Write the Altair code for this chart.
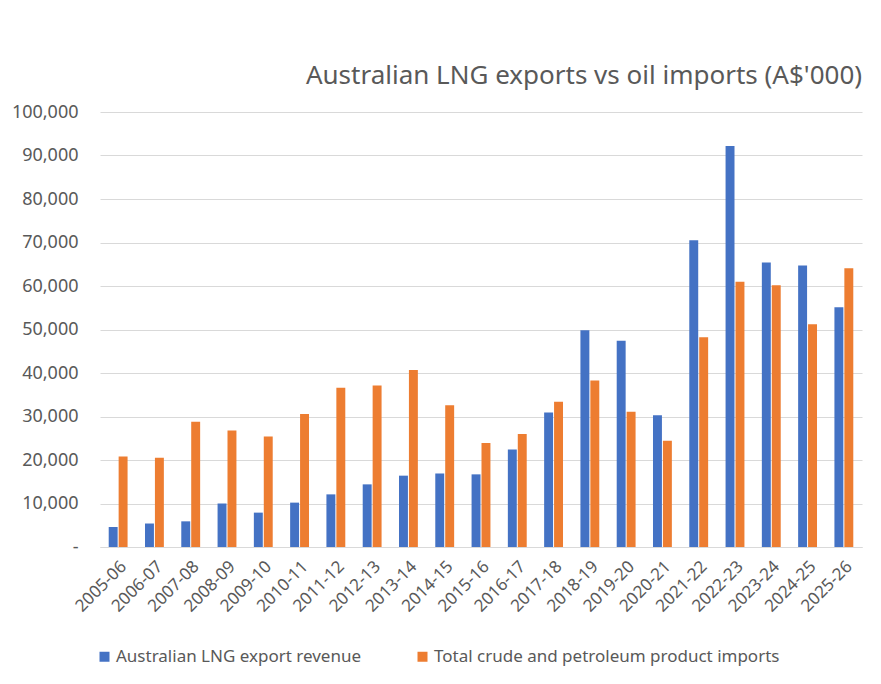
import altair as alt
import pandas as pd

years = ["2005-06", "2006-07", "2007-08", "2008-09", "2009-10", "2010-11", "2011-12",
         "2012-13", "2013-14", "2014-15", "2015-16", "2016-17", "2017-18", "2018-19",
         "2019-20", "2020-21", "2021-22", "2022-23", "2023-24", "2024-25", "2025-26"]
lng = [4600, 5400, 5900, 10000, 7900, 10200, 12100, 14400, 16400, 16900, 16700, 22400,
       30900, 49800, 47400, 30300, 70500, 92200, 65400, 64700, 55100]
oil = [20800, 20500, 28800, 26800, 25400, 30600, 36600, 37100, 40700, 32600, 23900, 26000,
       33400, 38300, 31100, 24400, 48200, 61000, 60200, 51200, 64100]
series = ["Australian LNG export revenue", "Total crude and petroleum product imports"]
colors = ["#4472C4", "#ED7D31"]
title_text = "Australian LNG exports vs oil imports (A$'000)"

rows = []
for i, y in enumerate(years):
    rows.append({"year": y, "series": series[0], "value": lng[i]})
    rows.append({"year": y, "series": series[1], "value": oil[i]})
df = pd.DataFrame(rows)

FONT = "Noto Sans"
GREY = "#595959"

bars = alt.Chart(df).mark_bar().encode(
    x=alt.X("year:N", sort=years, title=None,
            scale=alt.Scale(paddingInner=0.48, paddingOuter=0.24),
            axis=alt.Axis(labelAngle=-45, labelFontSize=17, labelColor=GREY, labelFont=FONT,
                          ticks=False, domainColor="#d9d9d9", labelPadding=11)),
    xOffset=alt.XOffset("series:N", sort=series, scale=alt.Scale(paddingInner=0.1)),
    y=alt.Y("value:Q", title=None,
            scale=alt.Scale(domain=[0, 100000]),
            axis=alt.Axis(values=list(range(0, 100001, 10000)),
                          labelExpr="datum.value == 0 ? '-\u00a0\u00a0\u00a0' : format(datum.value, ',')",
                          labelFontSize=18, labelColor=GREY, labelFont=FONT,
                          ticks=False, domain=False, gridColor="#d9d9d9", gridWidth=1.2,
                          labelPadding=22)),
    color=alt.Color("series:N", sort=series,
                    scale=alt.Scale(domain=series, range=colors),
                    legend=alt.Legend(title=None, orient="none", direction="horizontal",
                                      legendX=-4, legendY=536, symbolType="square",
                                      symbolSize=100, symbolStrokeWidth=0,
                                      labelFontSize=17, labelColor=GREY, labelFont=FONT,
                                      labelLimit=0, columnPadding=52, labelOffset=3)),
)

title_df = pd.DataFrame({"t": [title_text]})
title = alt.Chart(title_df).mark_text(
    fontSize=26, font=FONT, color=GREY, align="center", baseline="alphabetic"
).encode(
    text="t:N", x=alt.value(484), y=alt.value(-28)
)

chart = alt.layer(bars, title).properties(
    width=762, height=435,
    autosize=alt.AutoSizeParams(type="none"),
    padding={"left": 92, "top": 104, "right": 11, "bottom": 129},
    background="white",
).configure_view(stroke=None)

chart.save("out.html", embed_options={"renderer": "svg", "actions": False})
